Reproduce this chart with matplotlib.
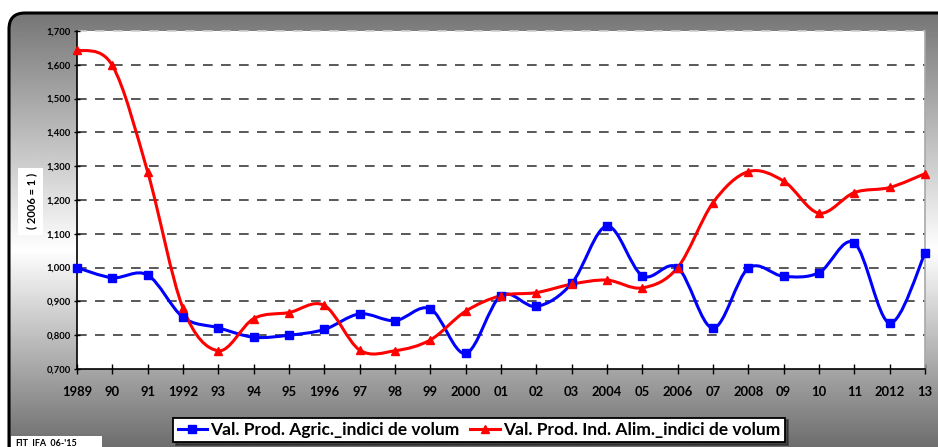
import numpy as np
import matplotlib
matplotlib.use('Agg')
import matplotlib.pyplot as plt
from matplotlib.path import Path
from matplotlib.patches import PathPatch, FancyBboxPatch, Rectangle
from matplotlib.lines import Line2D
from matplotlib.ticker import FuncFormatter

years = ['1989', '90', '91', '1992', '93', '94', '95', '1996', '97', '98', '99', '2000',
         '01', '02', '03', '2004', '05', '2006', '07', '2008', '09', '10', '11', '2012', '13']
agric = [1.000, 0.970, 0.978, 0.853, 0.822, 0.794, 0.800, 0.817, 0.863, 0.843, 0.878, 0.746,
         0.917, 0.885, 0.953, 1.123, 0.976, 1.000, 0.821, 0.998, 0.974, 0.985, 1.073, 0.836, 1.042]
alim = [1.644, 1.598, 1.283, 0.880, 0.754, 0.849, 0.867, 0.888, 0.756, 0.754, 0.786, 0.871,
        0.917, 0.926, 0.951, 0.963, 0.940, 1.000, 1.192, 1.284, 1.256, 1.161, 1.222, 1.237, 1.278]
label_agric = 'Val. Prod. Agric._indici de volum'
label_alim = 'Val. Prod. Ind. Alim._indici de volum'
y_label = '( 2006 = 1 )'
source = "FIT_IFA_06-'15"

W, H = 938, 447
fig = plt.figure(figsize=(W / 100, H / 100), dpi=100, facecolor='white')

# background panel with vertical gradient
bg = fig.add_axes([0, 0, 1, 1], zorder=0)
bg.set_xlim(0, W)
bg.set_ylim(H, 0)
bg.axis('off')
yy = np.linspace(0, H, 300)
g = np.interp(yy, [12, 250, H], [0.46, 1.0, 0.43])
grad = np.tile(g[:, None], (1, 2))
im = bg.imshow(grad, extent=(0, W, H, 0), cmap='gray', vmin=0, vmax=1, aspect='auto',
               interpolation='bilinear')
panel = FancyBboxPatch((9, 13), 1000, 500, boxstyle='round,pad=0,rounding_size=16',
                       facecolor='none', edgecolor='black', lw=2.2)
bg.add_patch(panel)
im.set_clip_path(panel)

# y-label white box
bg.add_patch(Rectangle((18, 168), 25, 67, facecolor='white', edgecolor='none'))
# source box
bg.add_patch(Rectangle((11, 436), 91, 12, facecolor='white', edgecolor='none', clip_on=False))

ax = fig.add_axes([77 / W, (H - 369) / H, (925 - 77) / W, (369 - 31) / H], zorder=2)
ax.set_facecolor('white')
ax.set_xlim(0, len(years) - 1)
ax.set_ylim(0.7, 1.7)

x = np.arange(len(years))


def smooth_path(xs, ys):
    pts = np.column_stack([xs, ys]).astype(float)
    n = len(pts)
    verts = [pts[0]]
    codes = [Path.MOVETO]
    for i in range(n - 1):
        p0 = pts[i - 1] if i > 0 else pts[i]
        p1 = pts[i]
        p2 = pts[i + 1]
        p3 = pts[i + 2] if i + 2 < n else pts[i + 1]
        c1 = p1 + (p2 - p0) / 6.0
        c2 = p2 - (p3 - p1) / 6.0
        verts += [c1, c2, p2]
        codes += [Path.CURVE4] * 3
    return Path(verts, codes)


# grid
for v in np.arange(0.8, 1.65, 0.1):
    ax.axhline(v, color='#3c3c3c', lw=1.2, dashes=(5.8, 5.0), zorder=1)
ax.axhline(1.7, color='#d0d0d0', lw=1.2, dashes=(5.8, 5.0), zorder=1, clip_on=False)

for vals, col, mk, ms in [(agric, '#0000ff', 's', 5.5), (alim, '#ff0000', '^', 6.0)]:
    pp = PathPatch(smooth_path(x, vals), facecolor='none', edgecolor=col, lw=2.2,
                   zorder=3, clip_on=False)
    ax.add_patch(pp)
    ax.plot(x, vals, ls='none', marker=mk, ms=ms, color=col, zorder=4, clip_on=False)

ax.spines['top'].set_visible(False)
ax.spines['right'].set_color('#a8a8a8')
ax.spines['right'].set_linewidth(1.2)
ax.spines['left'].set_linewidth(1.2)
ax.spines['bottom'].set_linewidth(1.2)

ax.set_xticks(x)
ax.set_xticklabels(years, fontfamily='Lato', fontweight='bold', fontsize=9.4)
ax.set_yticks(np.arange(0.7, 1.71, 0.1))
ax.yaxis.set_major_formatter(FuncFormatter(lambda v, p: f'{v:.3f}'.replace('.', ',')))
for lab in ax.get_yticklabels():
    lab.set_fontfamily('Lato')
    lab.set_fontweight('bold')
    lab.set_fontsize(6.8)
ax.tick_params(axis='x', direction='inout', length=7, width=1, pad=9)
ax.tick_params(axis='y', direction='inout', length=5, width=1, pad=2)

fig.text(32 / W, 1 - 201 / H, y_label, rotation=90, ha='center', va='center',
         fontfamily='Lato', fontweight='bold', fontsize=8)

handles = [Line2D([], [], color='#0000ff', marker='s', lw=2.2, ms=5.5),
           Line2D([], [], color='#ff0000', marker='^', lw=2.2, ms=6)]
leg = fig.legend(handles, [label_agric, label_alim], loc='center',
                 bbox_to_anchor=(479 / W, (H - 430) / H), ncol=2, frameon=True,
                 fancybox=False, edgecolor='black', framealpha=1, shadow={'color': '#1a1a1a'},
                 prop={'family': 'Lato', 'weight': 'bold', 'size': 12.5},
                 handlelength=1.7, handletextpad=0.2, columnspacing=0.6, borderpad=0.25,
                 borderaxespad=0)
leg.get_frame().set_linewidth(1.3)
leg.set_zorder(5)

fig.text(15 / W, 1 - 438 / H, source, ha='left', va='top', fontfamily='Lato',
         fontweight='bold', fontsize=6.5, zorder=5)

fig.savefig('out.png', dpi=100, facecolor='white')
